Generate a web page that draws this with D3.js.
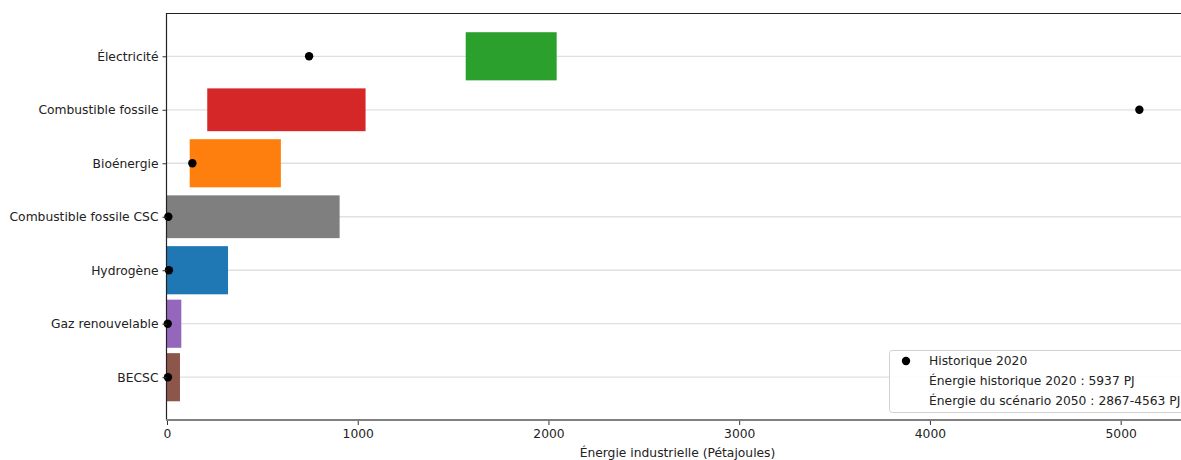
<!DOCTYPE html>
<html>
<head>
<meta charset="utf-8">
<script src="https://cdn.jsdelivr.net/npm/d3@7"></script>
<style>
  html, body { margin: 0; padding: 0; background: #fff; }
  svg { display: block; font-family: "DejaVu Sans", sans-serif; }
</style>
</head>
<body>
<svg id="chart" width="1181" height="460"></svg>
<script>
// Industrial energy by source: 2050 scenario range (bars) vs. 2020 historical (dots), in PJ
const categories = ["Électricité", "Combustible fossile", "Bioénergie", "Combustible fossile CSC", "Hydrogène", "Gaz renouvelable", "BECSC"];
const scenarioLow  = [1566, 211, 119, 0, 0, 0, 0];
const scenarioHigh = [2043, 1041, 597, 905, 320, 75, 68];
const historic2020 = [745, 5098, 133, 7, 10, 4, 5];
const xTicks = [0, 1000, 2000, 3000, 4000, 5000];
const legendLabels = ["Historique 2020", "Énergie historique 2020 : 5937 PJ", "Énergie du scénario 2050 : 2867-4563 PJ"];
const xTitle = "Énergie industrielle (Pétajoules)";

const colors = ["#2ca02c", "#d62728", "#ff7f0e", "#7f7f7f", "#1f77b4", "#9467bd", "#8c564b"];
// relative bar thickness per row (share of row spacing)
const thickness = [0.9, 0.8, 0.9, 0.8, 0.9, 0.9, 0.9];
const fontSize = 12.3;

const svg = d3.select("#chart");
const plotLeft = 167, plotRight = 1188, plotTop = 13.5, plotBottom = 420;

const x = d3.scaleLinear().domain([0, 5353]).range([plotLeft, plotRight]);
const y = d3.scaleLinear().domain([-0.8, categories.length - 1 + 0.8]).range([plotTop, plotBottom]);
const step = y(1) - y(0);

// horizontal grid lines
svg.append("g").selectAll("line").data(categories).join("line")
  .attr("x1", plotLeft).attr("x2", plotRight)
  .attr("y1", (d, i) => y(i)).attr("y2", (d, i) => y(i))
  .attr("stroke", "#e0e0e0").attr("stroke-width", 1.3);

// scenario range bars
svg.append("g").selectAll("rect").data(categories).join("rect")
  .attr("x", (d, i) => x(scenarioLow[i]))
  .attr("width", (d, i) => x(scenarioHigh[i]) - x(scenarioLow[i]))
  .attr("y", (d, i) => y(i) - thickness[i] * step / 2)
  .attr("height", (d, i) => thickness[i] * step)
  .attr("fill", (d, i) => colors[i]);

// spines
svg.append("line").attr("x1", plotLeft).attr("x2", plotRight).attr("y1", 13.5).attr("y2", 13.5)
  .attr("stroke", "#222").attr("stroke-width", 1.2);
svg.append("line").attr("x1", plotLeft - 0.5).attr("x2", plotLeft - 0.5).attr("y1", 13).attr("y2", plotBottom)
  .attr("stroke", "#222").attr("stroke-width", 1.2);
svg.append("line").attr("x1", plotLeft - 1).attr("x2", plotRight).attr("y1", plotBottom).attr("y2", plotBottom)
  .attr("stroke", "#808080").attr("stroke-width", 2);

// historical 2020 points
svg.append("g").selectAll("circle").data(categories).join("circle")
  .attr("cx", (d, i) => x(historic2020[i]))
  .attr("cy", (d, i) => y(i))
  .attr("r", 4.2)
  .attr("fill", "#000");

// y axis
const yAxis = svg.append("g").attr("transform", `translate(${plotLeft - 0.5},0)`)
  .call(d3.axisLeft(y).tickValues(d3.range(categories.length)).tickFormat(i => categories[i]).tickSize(4).tickPadding(4));
yAxis.select(".domain").remove();
yAxis.selectAll("text").attr("font-size", fontSize).attr("fill", "#222").attr("font-family", "DejaVu Sans, sans-serif");
yAxis.selectAll("line").attr("stroke", "#333");

// x axis
const xAxis = svg.append("g").attr("transform", `translate(0,${plotBottom + 1})`)
  .call(d3.axisBottom(x).tickValues(xTicks).tickFormat(d3.format("d")).tickSize(4).tickPadding(4));
xAxis.select(".domain").remove();
xAxis.selectAll("text").attr("font-size", fontSize).attr("fill", "#222").attr("font-family", "DejaVu Sans, sans-serif");
xAxis.selectAll("line").attr("stroke", "#333");

svg.append("text").attr("x", (plotLeft + plotRight) / 2).attr("y", 452.5)
  .attr("text-anchor", "middle").attr("dominant-baseline", "central")
  .attr("font-size", fontSize).attr("fill", "#222").text(xTitle);

// legend
const lg = svg.append("g");
lg.append("rect").attr("x", 889.5).attr("y", 350.5).attr("width", 330).attr("height", 62)
  .attr("rx", 3).attr("fill", "#fff").attr("fill-opacity", 0.85).attr("stroke", "#d0d0d0");
lg.append("circle").attr("cx", 906).attr("cy", 361).attr("r", 4.2).attr("fill", "#000");
lg.selectAll("text").data(legendLabels).join("text")
  .attr("x", 929).attr("y", (d, i) => 361 + i * 20)
  .attr("dominant-baseline", "central").attr("font-size", fontSize).attr("fill", "#222")
  .text(d => d);
</script>
</body>
</html>
